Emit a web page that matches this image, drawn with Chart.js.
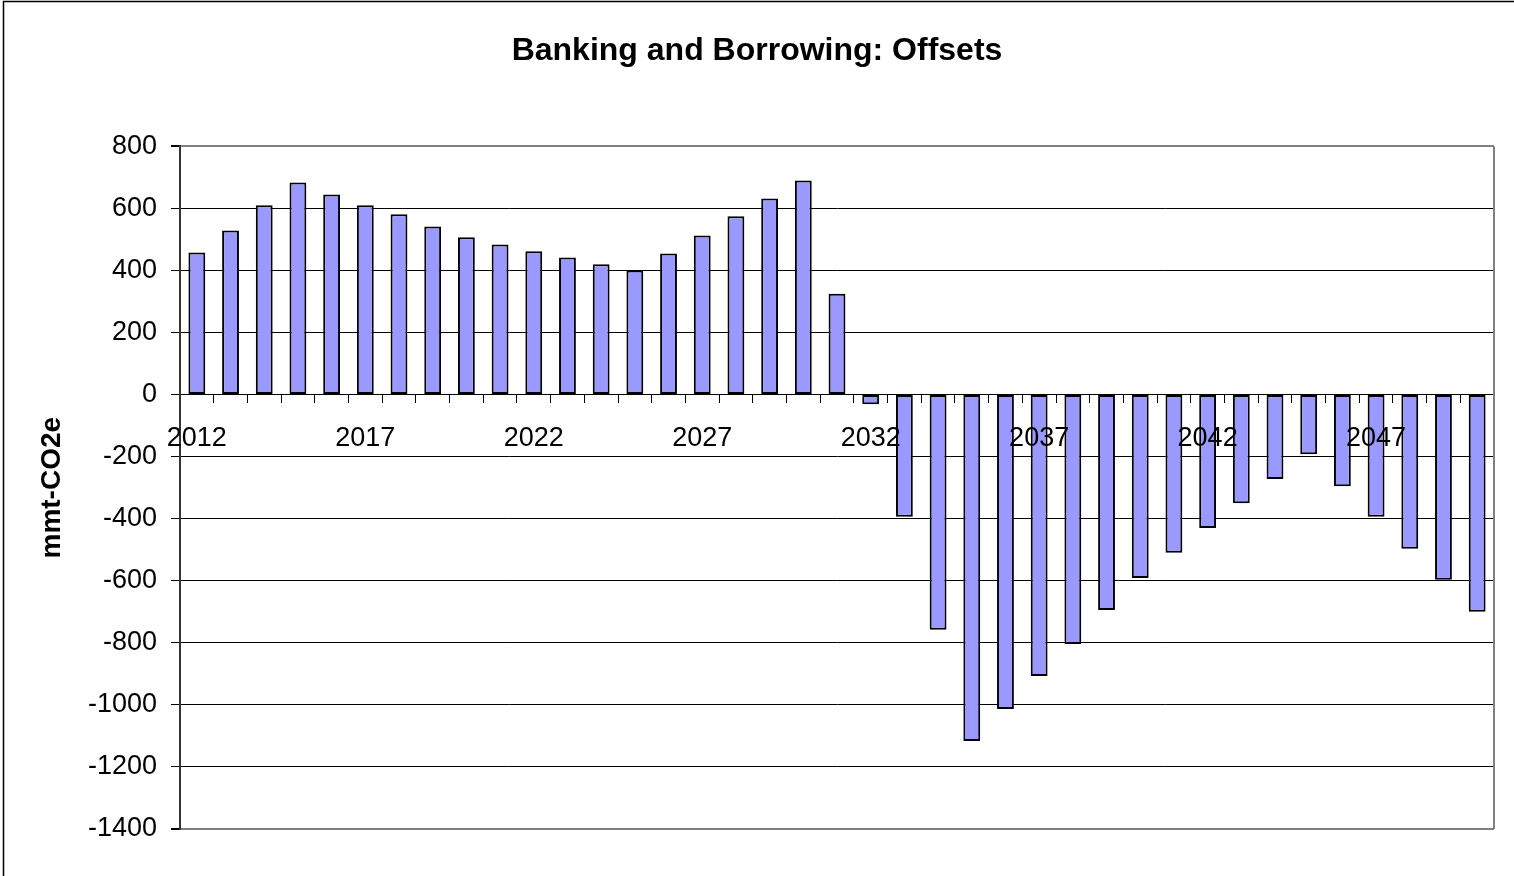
<!DOCTYPE html>
<html>
<head>
<meta charset="utf-8">
<title>Banking and Borrowing: Offsets</title>
<script src="https://cdn.jsdelivr.net/npm/chart.js@4/dist/chart.umd.min.js"></script>
<style>
	body { margin: 0; background: #fff; overflow: hidden; }
</style>
</head>
<body>
<canvas id="myChart" width="1514" height="876"></canvas>
<script>
// years 2012..2050
const years = ['2012', '2013', '2014', '2015', '2016', '2017', '2018', '2019', '2020', '2021',
	'2022', '2023', '2024', '2025', '2026', '2027', '2028', '2029', '2030', '2031',
	'2032', '2033', '2034', '2035', '2036', '2037', '2038', '2039', '2040', '2041',
	'2042', '2043', '2044', '2045', '2046', '2047', '2048', '2049', '2050'];

// offsets banked (+) / borrowed (-), mmt-CO2e
const offsets = [458, 529, 610, 684, 645, 610, 581, 542, 507, 484,
	462, 442, 420, 400, 455, 513, 575, 632, 690, 325,
	-31, -394, -758, -1116, -1013, -907, -804, -694, -591, -510,
	-430, -350, -272, -192, -295, -394, -497, -597, -700];

const yMin = -1400;
const yMax = 800;
const yStep = 200;

const fontFamily = '"Liberation Sans", Arial, sans-serif';

// outer frame + right plot border
const frame = {
	id: 'frame',
	beforeDraw(chart) {
		const c = chart.ctx;
		c.save();
		c.fillStyle = '#fff';
		c.fillRect(0, 0, chart.width, chart.height);
		c.strokeStyle = '#000';
		c.lineWidth = 1.5;
		c.strokeRect(3.5, 1.5, chart.width + 20, chart.height + 20);
		c.restore();
	},
	afterDatasetsDraw(chart) {
		const a = chart.chartArea;
		const c = chart.ctx;
		c.save();
		c.strokeStyle = '#808080';
		c.lineWidth = 2;
		c.beginPath();
		c.moveTo(a.right, a.top);
		c.lineTo(a.right, a.bottom);
		c.stroke();
		c.restore();
	}
};

const ctx = document.getElementById('myChart').getContext('2d');
const myChart = new Chart(ctx, {
	type: 'bar',
	data: {
		labels: years,
		datasets: [{
			label: 'Offsets',
			data: offsets,
			backgroundColor: '#9999FF',
			borderColor: '#000',
			borderWidth: 2,
			borderSkipped: false,
			barPercentage: 0.5,
			categoryPercentage: 1.0,
		}]
	},
	options: {
		responsive: false,
		animation: false,
		devicePixelRatio: 1,
		layout: {
			padding: { left: 0, right: 0, bottom: 47, top: 0 }
		},
		plugins: {
			legend: { display: false },
			tooltip: { enabled: false },
			title: {
				display: true,
				text: 'Banking and Borrowing: Offsets',
				color: '#000',
				font: { family: fontFamily, size: 32, weight: 'bold' },
				padding: { top: 32, bottom: 76 }
			}
		},
		scales: {
			x: {
				position: { y: 0 },
				grid: {
					offset: true,
					drawOnChartArea: false,
					drawTicks: true,
					tickLength: 8,
					color: '#000'
				},
				border: { color: '#000', width: 1 },
				ticks: {
					z: 1, // labels sit on top of the bars
					autoSkip: false,
					maxRotation: 0,
					color: '#000',
					padding: 20,
					font: { family: fontFamily, size: 27 },
					callback: function (val, i) {
						return i % 5 === 0 ? years[i] : '';
					}
				}
			},
			y: {
				min: yMin,
				max: yMax,
				afterFit: function (scale) { scale.width = 180; },
				grid: {
					color: function (c) {
						return (c.tick && (c.tick.value === yMax || c.tick.value === yMin)) ? '#808080' : '#000';
					},
					lineWidth: function (c) {
						return (c.tick && (c.tick.value === yMax || c.tick.value === yMin)) ? 2 : 1;
					},
					tickColor: '#000',
					tickLength: 9
				},
				border: { color: '#333', width: 2 },
				ticks: {
					stepSize: yStep,
					color: '#000',
					padding: 14,
					font: { family: fontFamily, size: 27 },
					callback: function (v) { return String(v); }
				},
				title: {
					display: true,
					text: 'mmt-CO2e',
					color: '#000',
					font: { family: fontFamily, size: 28, weight: 'bold' },
					padding: { top: 35, bottom: 0 }
				}
			},
			// empty right strip so the plot ends at 1494 while the title centres on the page
			yRight: {
				position: 'right',
				display: true,
				grid: { display: false, drawTicks: false },
				border: { display: false },
				ticks: { display: false },
				afterFit: function (scale) { scale.width = 20; }
			}
		}
	},
	plugins: [frame]
});
</script>
</body>
</html>
